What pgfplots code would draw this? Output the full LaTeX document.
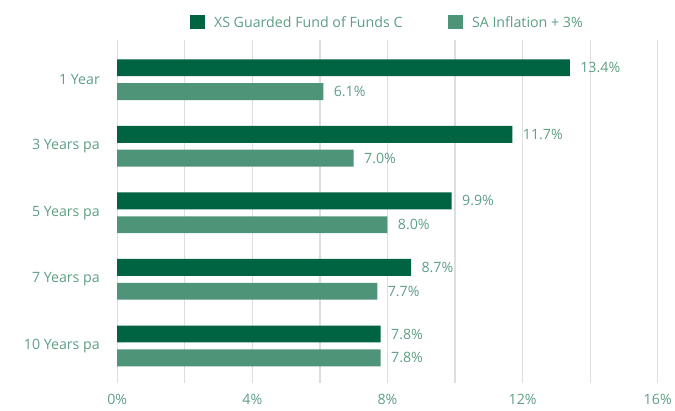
\documentclass[border=0pt]{standalone}
\usepackage{pgfplots}
\pgfplotsset{compat=1.18}
\usepackage{fontspec}
\setmainfont{Open Sans}
\definecolor{darkg}{HTML}{006341}
\definecolor{lightg}{HTML}{4E9479}
\definecolor{txtg}{HTML}{5E9F84}
\definecolor{gridc}{HTML}{DEDEDE}
\newcommand{\lf}{\fontsize{14.3}{16}\selectfont}
\begin{document}
\begin{tikzpicture}
\begin{axis}[
  scale only axis,
  width=544pt, height=345pt,
  xmin=0, xmax=16,
  ymin=-0.6, ymax=4.55,
  y dir=reverse,
  axis line style={draw=none},
  xtick={0,4,8,12,16},
  minor xtick={2,6,10,14},
  xticklabels={0\%,4\%,8\%,12\%,16\%},
  ytick={0,1,2,3,4},
  yticklabels={1 Year,3 Years pa,5 Years pa,7 Years pa,10 Years pa},
  major tick length=0pt, minor tick length=0pt,
  xmajorgrids, xminorgrids,
  major grid style={gridc, line width=1.3pt},
  minor grid style={gridc, line width=1.3pt},
  tick label style={font=\lf, text=txtg},
  /pgf/number format/assume math mode=true,
  xticklabel style={yshift=-8pt},
  yticklabel style={xshift=-14pt},
  xbar, bar width=17pt,
  nodes near coords={\pgfmathprintnumber[fixed,precision=1,zerofill]{\pgfplotspointmeta}\%},
  nodes near coords style={font=\lf, text=txtg, anchor=west, xshift=7pt},
  point meta=explicit,
  legend columns=2,
  legend style={draw=none, at={(0.5,1)}, anchor=south, yshift=7pt, font=\lf, text=txtg,
    /tikz/every even column/.append style={column sep=44pt}},
  legend image code/.code={\fill[#1] (0pt,-7pt) rectangle (15pt,7pt); \path (22pt,0pt);},
]
\addplot[fill=darkg, draw=none, bar shift=12pt] coordinates {(13.4,0)[13.4] (11.7,1)[11.7] (9.9,2)[9.9] (8.7,3)[8.7] (7.8,4)[7.8]};
\addplot[fill=lightg, draw=none, bar shift=-12pt] coordinates {(6.1,0)[6.1] (7.0,1)[7.0] (8.0,2)[8.0] (7.7,3)[7.7] (7.8,4)[7.8]};
\legend{XS Guarded Fund of Funds C, SA Inflation + 3\%}
\end{axis}
\useasboundingbox ([shift={(-118pt,-28pt)}]current axis.south west) rectangle ([shift={(13pt,40pt)}]current axis.north east);
\end{tikzpicture}
\end{document}
